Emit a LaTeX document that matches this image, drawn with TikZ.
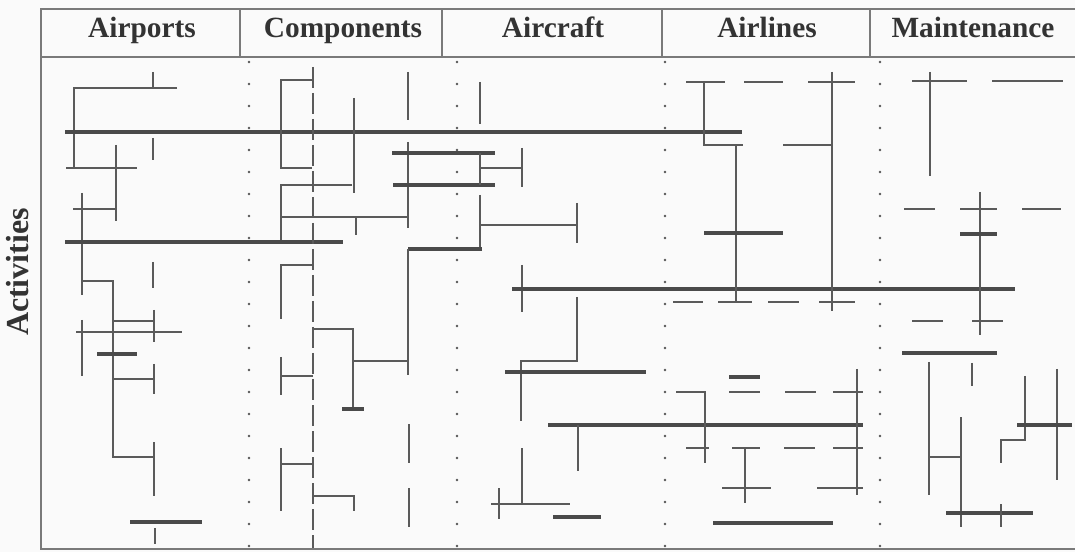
\documentclass[tikz,border=0pt]{standalone}
\usepackage{fontspec}
\setmainfont{Liberation Serif}
\definecolor{segcol}{HTML}{5A5A5A}
\definecolor{barcol}{HTML}{4A4A4A}
\definecolor{framecol}{HTML}{7A7A7A}
\definecolor{textcol}{HTML}{333333}
\definecolor{dotcol}{HTML}{555555}
\definecolor{paper}{HTML}{FAFAFA}
\begin{document}
\begin{tikzpicture}[x=0.75pt,y=-0.75pt,
  seg/.style={draw=segcol,line width=1.1pt},
  bar/.style={draw=barcol,line width=2.4pt},
  frm/.style={draw=framecol,line width=1pt},
  head/.style={font=\fontsize{22}{25}\selectfont\bfseries,text=textcol,inner sep=0pt},
]
\useasboundingbox (0,0) rectangle (1075,552);
\fill[paper] (0,0) rectangle (1075,552);

% frame
\draw[frm] (1075,9) -- (41,9) -- (41,549) -- (1075,549);
\draw[frm] (41,57) -- (1075,57);
\foreach \x in {240,442,662,870} \draw[frm] (\x,9) -- (\x,57);

% header
\node[head,anchor=base] (h1) at (142,38) {Airports};
\node[head,anchor=base] (h2) at (343,38) {Components};
\node[head,anchor=base] (h3) at (553,38) {Aircraft};
\node[head,anchor=base] (h4) at (767,38) {Airlines};
\node[head,anchor=base] (h5) at (973,38) {Maintenance};
\node[head,font=\fontsize{24}{26}\selectfont\bfseries,rotate=90,anchor=center] (act) at (18,272) {Activities};

% dotted separators
\foreach \x in {249,457,665,880}{
  \foreach \k in {0,...,22}{\fill[dotcol] (\x,{62+22*\k}) circle (1.05pt);}}

% ---------- Airports ----------
\draw[seg] (153,72) -- (153,88);
\draw[seg] (177,88) -- (74,88) -- (74,168);
\draw[bar] (65,132) -- (742,132);
\draw[seg] (153,138) -- (153,160);
\draw[seg] (66,168) -- (137,168);
\draw[seg] (116,145) -- (116,221);
\draw[seg] (73,209) -- (116,209);
\draw[seg] (82,193) -- (82,295);
\draw[bar] (65,242) -- (343,242);
\draw[seg] (153,262) -- (153,288);
\draw[seg] (82,281) -- (113,281) -- (113,457) -- (154,457);
\draw[seg] (113,321) -- (154,321);
\draw[seg] (154,310) -- (154,342);
\draw[seg] (76,332) -- (182,332);
\draw[seg] (82,320) -- (82,376);
\draw[bar] (97,354) -- (137,354);
\draw[seg] (113,379) -- (154,379);
\draw[seg] (154,364) -- (154,394);
\draw[seg] (154,442) -- (154,496);
\draw[bar] (130,522) -- (202,522);
\draw[seg] (155,528) -- (155,544);

% ---------- Components ----------
\draw[seg,dash pattern=on 16pt off 3.5pt] (313,67) -- (313,548);
\draw[seg] (313,80) -- (281,80) -- (281,168) -- (312,168);
\draw[seg] (354,98) -- (354,193);
\draw[seg] (408,72) -- (408,120);
\draw[seg] (480,82) -- (480,124);
\draw[seg] (408,142) -- (408,228);
\draw[bar] (392,153) -- (495,153);
\draw[bar] (393,185) -- (495,185);
\draw[seg] (480,153) -- (480,185);
\draw[seg] (480,168) -- (522,168);
\draw[seg] (522,148) -- (522,187);
\draw[seg] (480,195) -- (480,249);
\draw[seg] (480,225) -- (577,225);
\draw[seg] (577,203) -- (577,243);
\draw[seg] (352,185) -- (281,185) -- (281,240);
\draw[seg] (281,217) -- (408,217);
\draw[seg] (356,217) -- (356,235);
\draw[bar] (482,249) -- (408,249);
\draw[seg] (408,249) -- (408,375);
\draw[seg] (313,265) -- (281,265) -- (281,319);
\draw[seg] (313,329) -- (353,329) -- (353,410);
\draw[seg] (353,361) -- (408,361);
\draw[bar] (342,409) -- (364,409);
\draw[seg] (281,357) -- (281,395);
\draw[seg] (281,376) -- (313,376);
\draw[seg] (409,424) -- (409,463);
\draw[seg] (281,448) -- (281,511);
\draw[seg] (281,464) -- (313,464);
\draw[seg] (313,496) -- (354,496) -- (354,511);
\draw[seg] (409,488) -- (409,527);

% ---------- Aircraft ----------
\draw[seg] (522,265) -- (522,312);
\draw[bar] (512,289) -- (1015,289);
\draw[seg] (577,297) -- (577,361) -- (521,361) -- (521,421);
\draw[bar] (505,372) -- (646,372);
\draw[bar] (548,425) -- (863,425);
\draw[seg] (578,425) -- (578,471);
\draw[seg] (522,448) -- (522,504);
\draw[seg] (491,504) -- (570,504);
\draw[seg] (499,488) -- (499,519);
\draw[bar] (553,517) -- (601,517);

% ---------- Airlines ----------
\draw[seg] (686,82) -- (725,82);
\draw[seg] (744,82) -- (783,82);
\draw[seg] (808,82) -- (855,82);
\draw[seg] (704,82) -- (704,145) -- (743,145);
\draw[seg] (736,145) -- (736,303);
\draw[seg] (832,72) -- (832,311);
\draw[seg] (783,145) -- (833,145);
\draw[bar] (704,233) -- (783,233);
\draw[seg] (673,302) -- (703,302);
\draw[seg] (718,302) -- (752,302);
\draw[seg] (768,302) -- (799,302);
\draw[seg] (819,302) -- (855,302);
\draw[bar] (729,377) -- (760,377);
\draw[seg] (676,392) -- (705,392) -- (705,463);
\draw[seg] (729,392) -- (760,392);
\draw[seg] (785,392) -- (816,392);
\draw[seg] (833,392) -- (863,392);
\draw[seg] (857,369) -- (857,495);
\draw[seg] (686,448) -- (709,448);
\draw[seg] (732,448) -- (760,448);
\draw[seg] (784,448) -- (815,448);
\draw[seg] (833,448) -- (863,448);
\draw[seg] (745,448) -- (745,503);
\draw[seg] (722,488) -- (771,488);
\draw[seg] (817,488) -- (863,488);
\draw[bar] (713,523) -- (833,523);

% ---------- Maintenance ----------
\draw[seg] (912,81) -- (967,81);
\draw[seg] (930,72) -- (930,176);
\draw[seg] (992,81) -- (1063,81);
\draw[seg] (904,209) -- (935,209);
\draw[seg] (960,209) -- (997,209);
\draw[seg] (1022,209) -- (1061,209);
\draw[seg] (980,192) -- (980,335);
\draw[bar] (960,234) -- (997,234);
\draw[seg] (912,321) -- (943,321);
\draw[seg] (972,321) -- (1003,321);
\draw[bar] (902,353) -- (997,353);
\draw[seg] (929,362) -- (929,495);
\draw[seg] (972,363) -- (972,386);
\draw[seg] (961,417) -- (961,527);
\draw[seg] (929,457) -- (961,457);
\draw[seg] (1025,376) -- (1025,440) -- (1001,440) -- (1001,463);
\draw[seg] (1057,369) -- (1057,480);
\draw[bar] (1017,425) -- (1072,425);
\draw[bar] (946,513) -- (1033,513);
\draw[seg] (1001,504) -- (1001,527);
\end{tikzpicture}
\end{document}
